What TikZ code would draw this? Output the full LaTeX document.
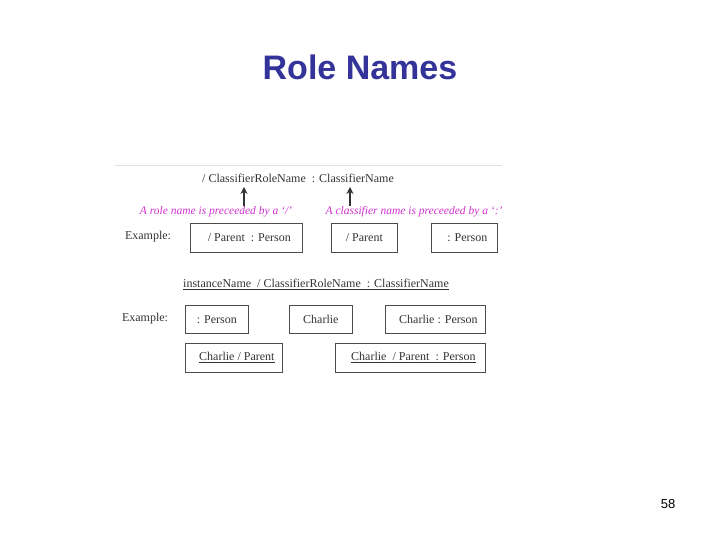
\documentclass[tikz,border=0pt]{standalone}
\usepackage{fontspec}
\setmainfont{Liberation Serif}
\newfontfamily\arialf{Liberation Sans}
\usetikzlibrary{arrows.meta}
\definecolor{ttl}{HTML}{333399}
\definecolor{mag}{HTML}{D030D0}
\tikzset{bx/.style={draw=black!70,line width=0.7pt,inner sep=0pt,anchor=north west},
 t/.style={font=\fontsize{12}{14}\selectfont,text=black!80},
 ann/.style={font=\itshape\fontsize{11.5}{13}\selectfont,text=mag}}
\begin{document}
\begin{tikzpicture}[x=1pt,y=-1pt]
\useasboundingbox (0,0) rectangle (720,540);
\node[font=\arialf\bfseries\fontsize{34}{38}\selectfont,text=ttl] (title) at (360,67) {Role Names};
\node[font=\arialf\fontsize{13}{15}\selectfont] (pg) at (668,504) {58};
\draw[black!12,line width=0.6pt] (115,165) coordinate (l1) -- (502,165) coordinate (l2);
\node[t] (h1) at (298,178) {/ ClassifierRoleName\ \ : ClassifierName};
\coordinate (a1s) at (244,206); \coordinate (a1e) at (244,187);
\coordinate (a2s) at (350,206); \coordinate (a2e) at (350,187);
\draw[-{Stealth[length=7pt,width=7pt]},line width=1.6pt,black!80] (a1s) -- (a1e);
\draw[-{Stealth[length=7pt,width=7pt]},line width=1.6pt,black!80] (a2s) -- (a2e);
\node[ann] (n1) at (216,212) {A role name is preceeded by a `/'};
\node[ann] (n2) at (414,212) {A classifier name is preceeded by a `:'};
\node[t] (ex1) at (148,237) {Example:};
\node[bx,minimum width=112,minimum height=29,t] (b1) at (190,223) {\ \ / Parent\ \ : Person};
\node[bx,minimum width=66,minimum height=29,t] (b2) at (331,223) {/ Parent};
\node[bx,minimum width=66,minimum height=29,t] (b3) at (431,223) {\ \ : Person};
\node[t] (h2) at (316,284) {\underline{instanceName\ \ / ClassifierRoleName\ \ : ClassifierName}};
\node[t] (ex2) at (145,319) {Example:};
\node[bx,minimum width=63,minimum height=28,t] (c1) at (185,305) {: Person};
\node[bx,minimum width=63,minimum height=28,t] (c2) at (289,305) {Charlie};
\node[bx,minimum width=100,minimum height=28,t] (c3) at (385,305) {\ \ Charlie : Person};
\node[bx,minimum width=97,minimum height=29,t] (d1) at (185,343) {\ \ \underline{Charlie / Parent}};
\node[bx,minimum width=150,minimum height=29,t] (d2) at (335,343) {\ \ \underline{Charlie\ \ / Parent\ \ : Person}};
\end{tikzpicture}
\end{document}
